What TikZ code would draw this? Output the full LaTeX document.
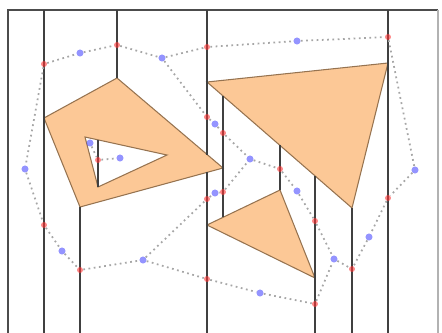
\documentclass[tikz,border=0pt]{standalone}
\definecolor{relleno}{RGB}{252,200,150}
\definecolor{borde}{RGB}{150,115,80}
\begin{document}
\begin{tikzpicture}[x=0.02cm, y=-0.02cm,
    obstaculo/.style={fill=relleno, draw=borde, line width=0.6pt},
    corte/.style={line width=1pt, black!75},
    ruta/.style={dotted, line width=1pt, gray!70},
    medio/.style={circle, fill=red!80, opacity=0.6, inner sep=0pt, minimum size=3.4pt},
    centro/.style={circle, fill=blue!70, opacity=0.6, inner sep=0pt, minimum size=4pt}]
    \useasboundingbox (0,0) rectangle (442,332);

    % Marco (el borde inferior queda fuera)
    \draw[line width=0.8pt, black!70] (8,334) -- (8,10) -- (438,10);
    \draw[line width=0.6pt, black!30] (438,10) -- (438,334);

    \coordinate (q1) at (117,78);   % cuadrilátero
    \coordinate (q2) at (44,118);
    \coordinate (q3) at (80,207);
    \coordinate (q4) at (223,168);
    \coordinate (h1) at (85,137);   % hueco
    \coordinate (h2) at (167,155);
    \coordinate (h3) at (98,187);
    \coordinate (t1) at (207,82);   % triángulo grande
    \coordinate (t2) at (388,63);
    \coordinate (t3) at (352,208);
    \coordinate (l1) at (207,225);  % triángulo pequeño
    \coordinate (l2) at (280,190);
    \coordinate (l3) at (315,278);

    % Obstáculos
    \draw[obstaculo, even odd rule] (q1) -- (q2) -- (q3) -- (q4) -- cycle
        (h1) -- (h2) -- (h3) -- cycle;
    \draw[obstaculo] (t1) -- (t2) -- (t3) -- cycle;
    \draw[obstaculo] (l1) -- (l2) -- (l3) -- cycle;

    % Cortes verticales (extremos sobre las aristas)
    \draw[corte] (44,10) -- (44,334);
    \draw[corte] (117,10) -- (q1);
    \draw[corte] (q3) -- (80,334);
    \draw[corte] (h3) -- (98,140);      % arista h1-h2
    \draw[corte] (207,10) -- (207,155);  % arista q1-q4
    \draw[corte] (207,172) -- (207,334); % arista q3-q4
    \draw[corte] (223,96) -- (223,217);  % t1-t3 y l1-l2
    \draw[corte] (l2) -- (280,145);
    \draw[corte] (315,176) -- (315,334);
    \draw[corte] (t3) -- (352,334);
    \draw[corte] (388,10) -- (388,334);

    % Puntos medios de los cortes
    \node[medio] (m1)  at (44,64) {};
    \node[medio] (m2)  at (44,225) {};
    \node[medio] (m3)  at (117,45) {};
    \node[medio] (m4)  at (80,270) {};
    \node[medio] (m5)  at (98,160) {};
    \node[medio] (m6)  at (207,47) {};
    \node[medio] (m7)  at (207,117) {};
    \node[medio] (m8)  at (207,199) {};
    \node[medio] (m9)  at (207,279) {};
    \node[medio] (m10) at (223,133) {};
    \node[medio] (m11) at (223,192) {};
    \node[medio] (m12) at (280,169) {};
    \node[medio] (m13) at (315,221) {};
    \node[medio] (m14) at (315,304) {};
    \node[medio] (m15) at (352,269) {};
    \node[medio] (m16) at (388,37) {};
    \node[medio] (m17) at (388,198) {};

    % Centros de las celdas
    \node[centro] (c1)  at (25,169) {};
    \node[centro] (c2)  at (80,53) {};
    \node[centro] (c3)  at (162,58) {};
    \node[centro] (c4)  at (297,41) {};
    \node[centro] (c5)  at (415,170) {};
    \node[centro] (c6)  at (62,251) {};
    \node[centro] (c7)  at (143,260) {};
    \node[centro] (c8)  at (215,124) {};
    \node[centro] (c9)  at (215,193) {};
    \node[centro] (c10) at (250,159) {};
    \node[centro] (c11) at (297,191) {};
    \node[centro] (c12) at (260,293) {};
    \node[centro] (c13) at (334,259) {};
    \node[centro] (c14) at (369,237) {};
    \node[centro] (c15) at (90,143) {};
    \node[centro] (c16) at (120,158) {};

    % Mapa de caminos
    \draw[ruta] (m1) -- (c1) -- (m2);
    \draw[ruta] (m1) -- (c2) -- (m3) -- (c3) -- (m6) -- (c4) -- (m16);
    \draw[ruta] (m16) -- (c5) -- (m17) -- (c14) -- (m15);
    \draw[ruta] (m2) -- (c6) -- (m4) -- (c7) -- (m8) -- (c9) -- (m11);
    \draw[ruta] (c7) -- (m9) -- (c12) -- (m14) -- (c13) -- (m15);
    \draw[ruta] (c3) -- (m7) -- (c8) -- (m10) -- (c10) -- (m12) -- (c11) -- (m13) -- (c13);
    \draw[ruta] (m11) -- (c10);
    \draw[ruta] (c15) -- (m5) -- (c16);
\end{tikzpicture}
\end{document}
